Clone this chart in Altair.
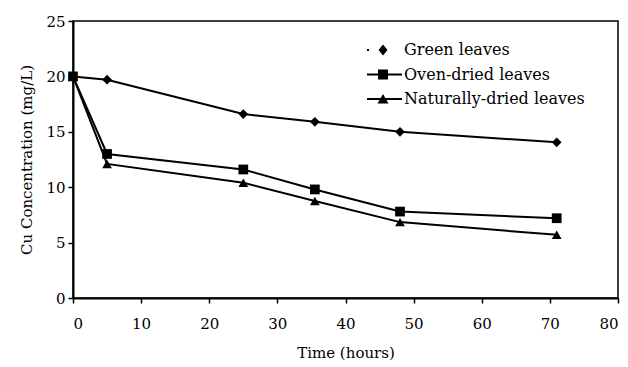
import altair as alt
import pandas as pd

time_h = [0, 5, 25, 35.5, 48, 71]
green = [20.0, 19.7, 16.6, 15.9, 15.0, 14.05]
oven = [20.0, 13.0, 11.6, 9.8, 7.8, 7.2]
natural = [20.0, 12.1, 10.4, 8.75, 6.85, 5.7]
series_names = ["Green leaves", "Oven-dried leaves", "Naturally-dried leaves"]
x_ticks = [0, 10, 20, 30, 40, 50, 60, 70, 80]
y_ticks = [0, 5, 10, 15, 20, 25]

rows = []
for name, vals in zip(series_names, [green, oven, natural]):
    for t, v in zip(time_h, vals):
        rows.append({"Time": t, "Cu": v, "Series": name})
df = pd.DataFrame(rows)

FONT = "DejaVu Serif"

x_enc = alt.X("Time:Q", scale=alt.Scale(domain=[0, 80], nice=False),
              axis=alt.Axis(values=x_ticks, title="Time (hours)", titlePadding=14,
                            labelPadding=13))
y_enc = alt.Y("Cu:Q", scale=alt.Scale(domain=[0, 25], nice=False),
              axis=alt.Axis(values=y_ticks, title="Cu Concentration (mg/L)", titlePadding=11,
                            labelPadding=3))

base = alt.Chart(df)

lines = base.mark_line(color="black", strokeWidth=2).encode(
    x=x_enc, y=y_enc, detail="Series:N", order="Time:Q"
)

points = base.mark_point(filled=True, color="black", size=95, opacity=1).encode(
    x=x_enc, y=y_enc,
    shape=alt.Shape("Series:N",
                    scale=alt.Scale(domain=series_names,
                                    range=["diamond", "square", "triangle-up"]),
                    legend=None)
)

green_path = ("M-1.6,-0.1L-1.4,-0.1L-1.4,0.1L-1.6,0.1Z "
              "M0,-0.55L0.45,0L0,0.55L-0.45,0Z")
oven_path = ("M-1.6,-0.1L1.9,-0.1L1.9,0.1L-1.6,0.1Z "
             "M-0.5,-0.5L0.5,-0.5L0.5,0.5L-0.5,0.5Z")
nat_path = ("M-1.6,-0.1L1.9,-0.1L1.9,0.1L-1.6,0.1Z "
            "M0,-0.5L0.55,0.45L-0.55,0.45Z")

legend_layer = base.mark_point(filled=True, color="black", opacity=0).encode(
    x=x_enc, y=y_enc,
    shape=alt.Shape("Series:N",
                    scale=alt.Scale(domain=series_names,
                                    range=[green_path, oven_path, nat_path]),
                    legend=alt.Legend(title=None, orient="none", legendX=300, legendY=19,
                                      symbolSize=400, symbolFillColor="black",
                                      symbolStrokeColor="black", symbolStrokeWidth=0,
                                      symbolOpacity=1, labelOffset=11, rowPadding=6.5,
                                      labelFont=FONT, labelFontSize=16, labelColor="black",
                                      padding=0, labelLimit=400))
)

chart = alt.layer(lines, points, legend_layer).resolve_scale(shape="independent").properties(
    width=545, height=277,
    autosize=alt.AutoSizeParams(type="none"),
    padding={"left": 73, "top": 21, "right": 10, "bottom": 69},
    background="white",
).configure_view(
    stroke="black", strokeWidth=1.5
).configure_axis(
    grid=False, domainColor="black", domainWidth=2, tickColor="black", tickSize=5,
    tickWidth=1.5, labelFont=FONT, labelFontSize=15, labelColor="black",
    titleFont=FONT, titleFontSize=15, titleFontWeight="normal", titleColor="black"
)

chart.save("out.html", embed_options={"renderer": "svg", "actions": False})
